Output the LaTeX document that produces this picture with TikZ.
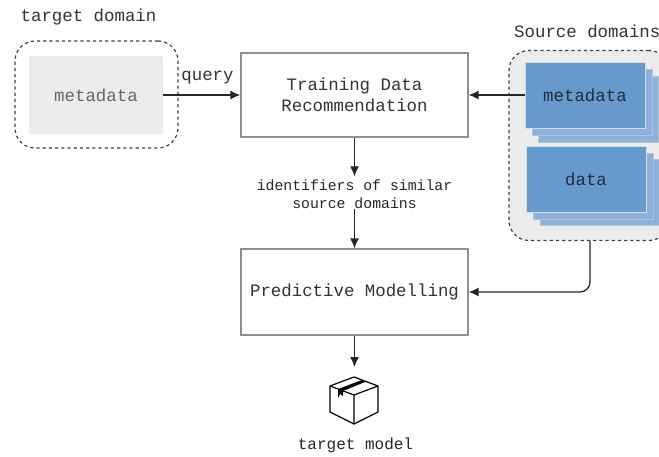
\documentclass[tikz,border=0pt]{standalone}
\usepackage{fontspec}
\usetikzlibrary{arrows.meta}
\setmonofont{Liberation Mono}
\definecolor{boxline}{HTML}{909090}
\definecolor{panelgrey}{HTML}{ECECEC}
\definecolor{layerblue}{HTML}{8DB1DB}
\definecolor{frontblue}{HTML}{6699CC}
\definecolor{labelgrey}{HTML}{333333}
\begin{document}
\begin{tikzpicture}[x=1pt,y=-1pt]
\tikzstyle{every node}+=[inner sep=0pt,font=\ttfamily\fontsize{17.4}{20}\selectfont,text=labelgrey]
\tikzstyle{stepbox}=[draw=boxline,line width=1.2pt,fill=white,minimum width=227pt,align=center]
\tikzstyle{domainbox}=[draw=black!75,dash pattern=on 3.2pt off 3pt,line width=1.2pt,rounded corners=20pt]
\tikzstyle{layerbox}=[fill=layerblue,draw=white!25!layerblue,line width=0.6pt,minimum width=120pt,minimum height=66pt]
\tikzstyle{frontbox}=[fill=frontblue,draw=white!70!frontblue,line width=0.8pt,minimum width=120pt,minimum height=66pt,text=black!70!frontblue]
\tikzstyle{conn}=[-{Latex[length=10pt,width=9pt]},black!85,line width=1.3pt]
\tikzstyle{smalltext}=[font=\ttfamily\fontsize{14.8}{18}\selectfont,text=black!85]

\clip (0,0) rectangle (659,457);

% left side
\node [domainbox,minimum width=163pt,minimum height=107pt] (targetdom) at (96.5,94.5) {};
\node [fill=panelgrey,rounded corners=1pt,minimum width=134pt,minimum height=78pt,text=black!60] (targetmeta) at (96,95) {metadata};
\node (targetlab) at (88.5,17) {target domain};

% source domains
\node [domainbox,fill=panelgrey,minimum width=160pt,minimum height=190pt] (srcdom) at (589,145.5) {};
\node [layerbox] (metac) at (598,109) {};
\node [layerbox] (metab) at (592,102) {};
\node [frontbox] (metaa) at (585,95) {metadata};
\node [layerbox] (datac) at (600,192) {};
\node [layerbox] (datab) at (593,186) {};
\node [frontbox] (dataa) at (586,179) {data};
\node [anchor=west] (srclab) at (514,31) {Source domains};

% the two steps
\node [stepbox,minimum height=84pt] (train) at (354.5,95) {Training Data\\[1pt]Recommendation};
\node [stepbox,minimum height=86pt] (model) at (354.5,292) {Predictive Modelling};
\node [smalltext,align=center] (ident) at (354.5,194) {identifiers of similar\\source domains};
\node [smalltext,font=\ttfamily\fontsize{16}{18}\selectfont] (modellab) at (355.5,445) {target model};
\node (query) at (207.5,78) {query};

\coordinate (iconin) at (354.5,367);
\coordinate (srcout) at (590,241);
\coordinate (srcturn) at (590,292);

\draw [conn] (targetmeta) -- (train);
\draw [conn] (metaa) -- (train);
\draw [conn,shorten >=3pt] (train) -- (ident);
\draw [conn] (ident) -- (model);
\draw [conn,rounded corners=10pt] (srcout) -- (srcturn) -- (model);
\draw [conn] (model) -- (iconin);

% box icon
\draw [black,line width=1.2pt,line join=round] (354,377) -- (378,386) -- (378,412) -- (354,424) -- (330,412) -- (330,386) -- cycle;
\draw [black,line width=1.2pt,line join=round] (330,386) -- (354,395) -- (378,386) (354,395) -- (354,424);
\fill [black] (338,389) -- (362,380) -- (365,382) -- (343,391) -- (343,396) -- (340,394) -- (338,398) -- cycle;
\end{tikzpicture}
\end{document}
